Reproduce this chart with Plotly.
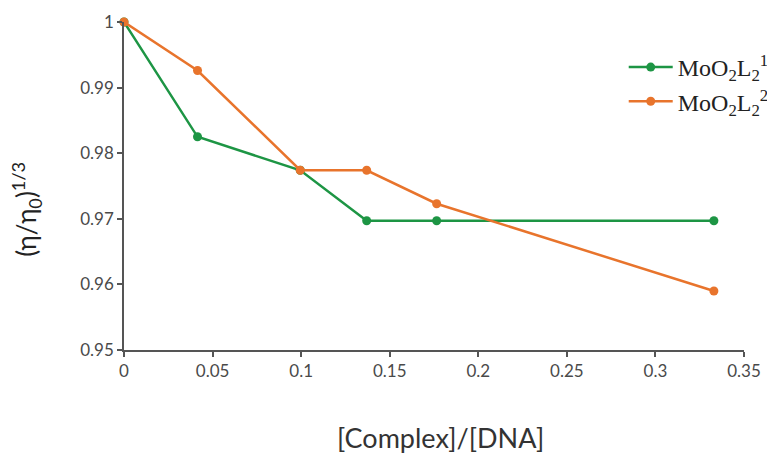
import plotly.graph_objects as go

# Data
ratio = [0, 0.0415, 0.0995, 0.137, 0.1765, 0.333]
series1_name = "MoO<sub>2</sub>L<sub>2</sub><sup>1</sup>"
series1 = [1.0, 0.9825, 0.9774, 0.9697, 0.9697, 0.9697]
series2_name = "MoO<sub>2</sub>L<sub>2</sub><sup>2</sup>"
series2 = [1.0, 0.9926, 0.9774, 0.9774, 0.9723, 0.959]

x_ticks = [0, 0.05, 0.1, 0.15, 0.2, 0.25, 0.3, 0.35]
y_ticks = [0.95, 0.96, 0.97, 0.98, 0.99, 1.0]

x_title = "[Complex]/[DNA]"
y_title = "(η/η<sub>0</sub>)<sup>1/3</sup>"

green = "#1d9544"
orange = "#e8742c"

fig = go.Figure()
fig.add_trace(go.Scatter(
    x=ratio, y=series1, name=series1_name, mode="lines+markers",
    line=dict(color=green, width=2.5),
    marker=dict(color=green, size=9),
    cliponaxis=False,
))
fig.add_trace(go.Scatter(
    x=ratio, y=series2, name=series2_name, mode="lines+markers",
    line=dict(color=orange, width=2.5),
    marker=dict(color=orange, size=9),
    cliponaxis=False,
))

axis_font = dict(family="Lato, Open Sans, sans-serif", size=17, color="#4a4a4a")
title_font = dict(family="Lato, Open Sans, sans-serif", size=27, color="#333333")

fig.update_layout(
    width=767, height=445,
    margin=dict(l=116, r=31, t=14, b=103, autoexpand=False),
    paper_bgcolor="white", plot_bgcolor="white",
    showlegend=True,
    legend=dict(
        x=0.806, y=0.93, xanchor="left", yanchor="top",
        font=dict(family="Liberation Serif, Times New Roman, serif", size=24, color="#222222"),
        bgcolor="rgba(0,0,0,0)", tracegroupgap=0, itemwidth=44,
    ),
    xaxis=dict(
        range=[0, 0.35], tickvals=x_ticks, ticktext=[f"{v:g}" for v in x_ticks],
        showgrid=False, zeroline=False,
        showline=True, linecolor="#555555", linewidth=1.5,
        ticks="outside", ticklen=5, tickcolor="#555555", tickwidth=1.5,
        tickfont=axis_font,
    ),
    yaxis=dict(
        range=[0.95, 1.0], tickvals=y_ticks, ticktext=[f"{v:g}" for v in y_ticks],
        showgrid=False, zeroline=False,
        showline=True, linecolor="#555555", linewidth=1.5,
        ticks="outside", ticklen=5, tickcolor="#555555", tickwidth=1.5,
        tickfont=axis_font,
    ),
    annotations=[
        dict(text=x_title, xref="paper", yref="paper", x=0.51, y=-0.266,
             xanchor="center", yanchor="middle", showarrow=False, font=title_font),
        dict(text=y_title, xref="paper", yref="paper", x=-0.158, y=0.4275,
             xanchor="center", yanchor="middle", showarrow=False, textangle=-90,
             font=dict(family="Lato, Open Sans, sans-serif", size=26, color="#222222")),
    ],
)

fig.write_html("out.html")
